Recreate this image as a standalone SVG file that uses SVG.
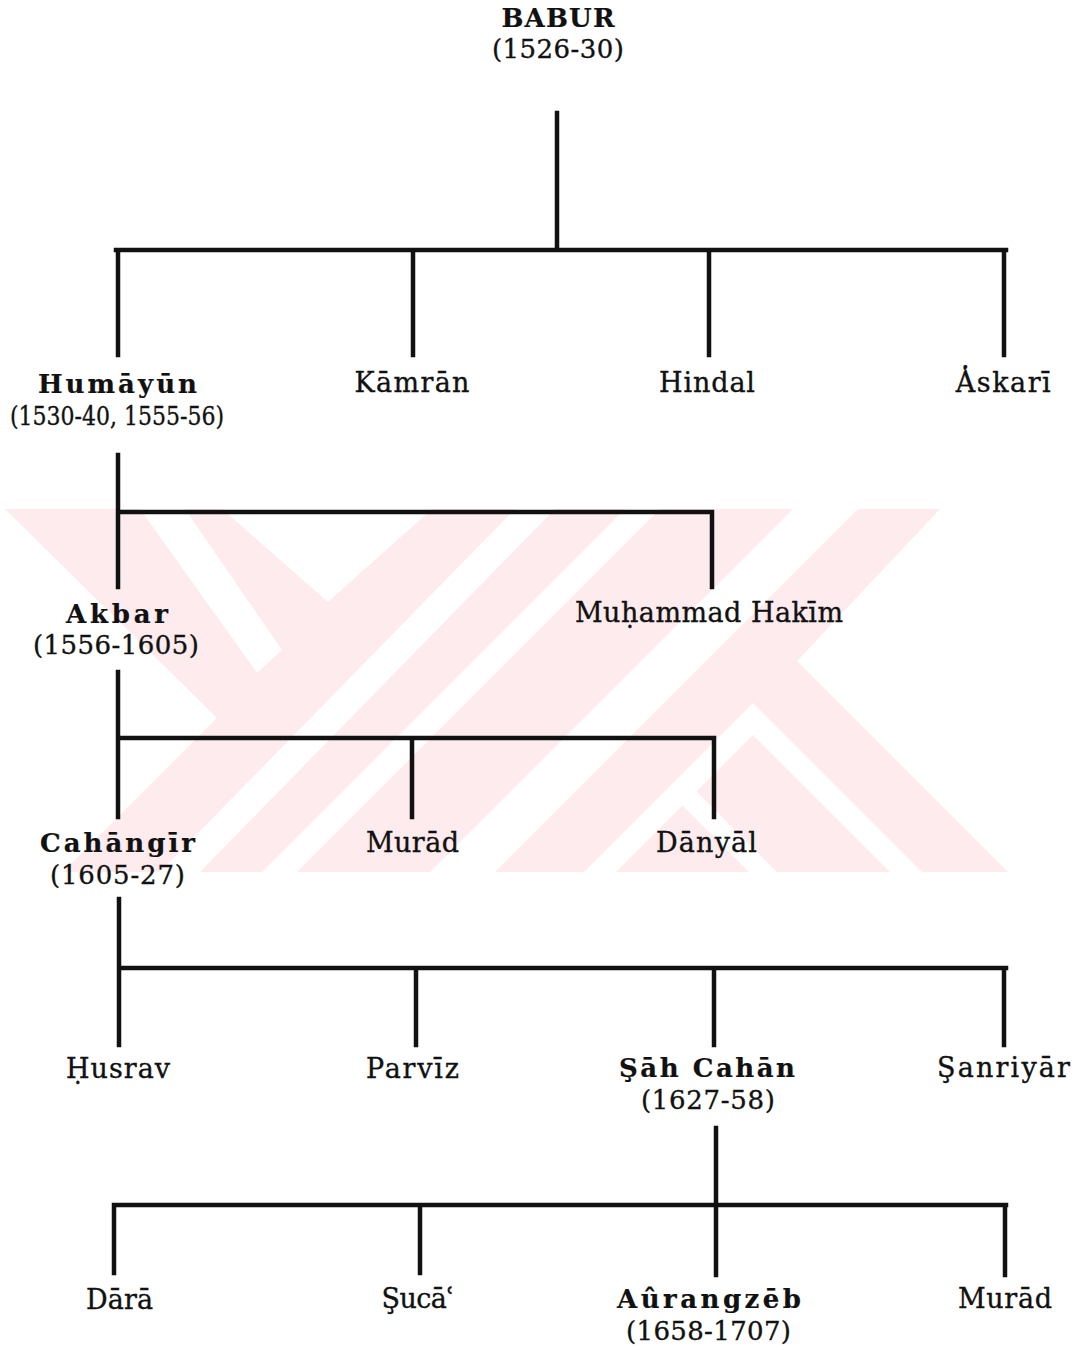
<svg xmlns="http://www.w3.org/2000/svg" width="1083" height="1350" viewBox="0 0 1083 1350">
<style>
.ln{stroke:#111;stroke-width:4.5;fill:none;stroke-linecap:square}
text{font-family:"DejaVu Serif","Liberation Serif",serif;fill:#111;text-anchor:middle;stroke:#111;stroke-width:0.35}
.nm{font-size:27px}
.bd{font-size:26px;font-weight:bold;stroke-width:0.2}
.dt{font-size:26px}
.wm{fill:#fdebee}
.gap{fill:#ffffff}
</style>
<rect width="1083" height="1350" fill="#ffffff"/>
<g id="watermark">
<polygon class="wm" points="5,509 940,509 797,661 1008,872 63,872 217,718"/>
<polygon class="gap" points="140,509 185,509 282,650 257,673"/>
<polygon class="gap" points="222,509 432,509 328,602"/>
<polygon class="gap" points="515,509 555,509 200,872 160,872"/>
<polygon class="gap" points="625,509 660,509 297,872 262,872"/>
<polygon class="gap" points="793,509 858,509 495,872 430,872"/>
<polygon class="gap" points="753,703 922,872 890,872 753,735 616,872 584,872"/>
<polygon class="gap" points="682,777 777,872 749,872 682,805 615,872 587,872"/>
</g>
<g id="connectors">
<path class="ln" d="M557,113V250M116,250H1006M118,250V355M413,250V355M709,250V355M1004,250V355"/>
<path class="ln" d="M118,455V587M118,512H712M712,512V587"/>
<path class="ln" d="M118,672V817M118,738H714M412,738V817M714,738V817"/>
<path class="ln" d="M119,899V1045M119,968H1006M416,968V1045M714,968V1045M1004,968V1045"/>
<path class="ln" d="M716,1128V1275M114,1205H1006M114,1205V1273M420,1205V1273M1005,1205V1275"/>
</g>
<g id="babur">
<text class="bd" x="558" y="27" textLength="113" lengthAdjust="spacing">BABUR</text>
<text class="dt" x="558" y="58" textLength="132" lengthAdjust="spacing">(1526-30)</text>
</g>
<g id="humayun">
<text class="bd" x="117.5" y="393" textLength="159" lengthAdjust="spacing">Humāyūn</text>
<text class="dt" x="117" y="425" textLength="214" lengthAdjust="spacingAndGlyphs">(1530-40, 1555-56)</text>
</g>
<g id="kamran"><text class="nm" x="412" y="392" textLength="115" lengthAdjust="spacing">Kāmrān</text></g>
<g id="hindal"><text class="nm" x="707" y="392" textLength="96" lengthAdjust="spacing">Hindal</text></g>
<g id="askari"><text class="nm" x="1004" y="392" letter-spacing="1.5">A̔skarī</text></g>
<g id="akbar">
<text class="bd" x="117" y="623" textLength="102" lengthAdjust="spacing">Akbar</text>
<text class="dt" x="116" y="654" textLength="166" lengthAdjust="spacing">(1556-1605)</text>
</g>
<g id="muhammad-hakim"><text class="nm" x="709" y="622" textLength="268" lengthAdjust="spacing">Muḥammad Hakīm</text></g>
<g id="cahangir">
<text class="bd" x="117.5" y="852" textLength="155" lengthAdjust="spacing">Cahāngīr</text>
<text class="dt" x="117.5" y="884" textLength="135" lengthAdjust="spacing">(1605-27)</text>
</g>
<g id="murad1"><text class="nm" x="412.5" y="852" textLength="93" lengthAdjust="spacing">Murād</text></g>
<g id="danyal"><text class="nm" x="706.5" y="852" textLength="101" lengthAdjust="spacing">Dānyāl</text></g>
<g id="husrav"><text class="nm" x="118" y="1078" textLength="104" lengthAdjust="spacing">Ḥusrav</text></g>
<g id="parviz"><text class="nm" x="412.5" y="1078" textLength="93" lengthAdjust="spacing">Parvīz</text></g>
<g id="sah-cahan">
<text class="bd" x="707" y="1077" textLength="176" lengthAdjust="spacing">Şāh Cahān</text>
<text class="dt" x="708" y="1109" textLength="134" lengthAdjust="spacing">(1627-58)</text>
</g>
<g id="sanriyar"><text class="nm" x="1003.5" y="1077" textLength="133" lengthAdjust="spacing">Şanriyār</text></g>
<g id="dara"><text class="nm" x="119.5" y="1309" textLength="67" lengthAdjust="spacing">Dārā</text></g>
<g id="suca"><text class="nm" x="418" y="1308" textLength="73" lengthAdjust="spacing">Şucāʿ</text></g>
<g id="aurangzeb">
<text class="bd" x="709" y="1308" textLength="184" lengthAdjust="spacing">Aûrangzēb</text>
<text class="dt" x="708.5" y="1340" textLength="165" lengthAdjust="spacing">(1658-1707)</text>
</g>
<g id="murad2"><text class="nm" x="1005" y="1308" textLength="94" lengthAdjust="spacing">Murād</text></g>
</svg>
